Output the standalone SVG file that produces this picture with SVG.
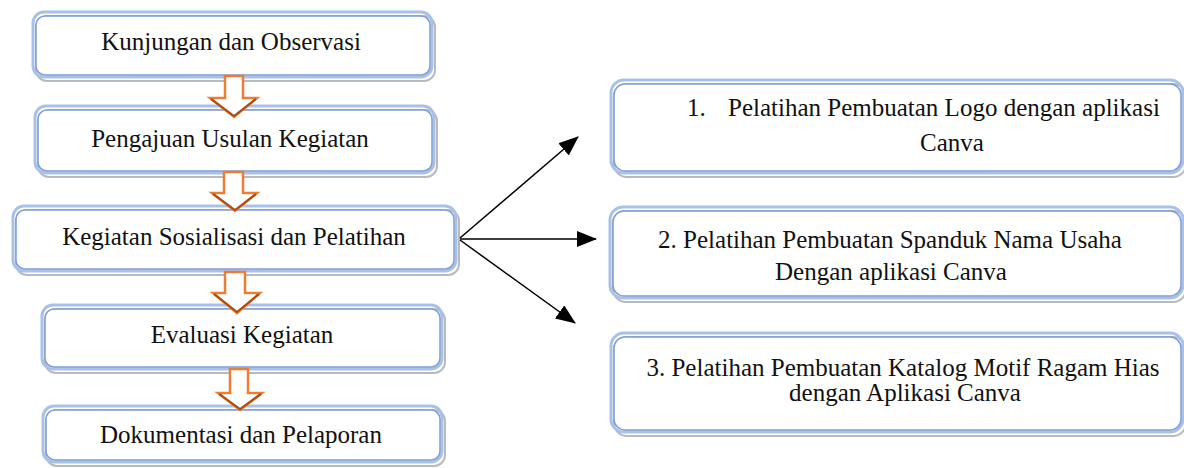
<svg xmlns="http://www.w3.org/2000/svg" width="1184" height="468" viewBox="0 0 1184 468">
  <defs>
    <marker id="ah" markerWidth="10" markerHeight="10" refX="9" refY="5" orient="auto" markerUnits="userSpaceOnUse">
      <path d="M0,0 L10,5 L0,10 Z" fill="#000"/>
    </marker>
    <marker id="ah2" viewBox="0 0 20 16" markerWidth="20" markerHeight="16" refX="19" refY="8" orient="auto" markerUnits="userSpaceOnUse">
      <path d="M0,0 L20,8 L0,16 Z" fill="#000"/>
    </marker>
  </defs>
  <style>
    .sh { fill: none; stroke: #9c9c9c; stroke-width: 2; opacity: 0.7; }
    .out { fill: none; stroke: #a9c1e8; stroke-width: 3; }
    .in { fill: #fff; stroke: #7d9dd3; stroke-width: 1.5; }
    .t { font-family: "Liberation Serif", "Times New Roman", serif; font-size: 25px; fill: #111; }
    .c { text-anchor: middle; }
    .ba { fill: #fff; stroke: #ed7d31; stroke-width: 2.5; stroke-linejoin: miter; }
    .bd { fill: none; stroke: #a54d12; stroke-width: 2; }
    .cn { stroke: #000; stroke-width: 1.5; fill: none; }
  </style>

  <g id="node-kunjungan">
    <rect class="sh" x="36" y="16" width="399" height="65" rx="11"/>
    <rect class="out" x="33" y="12" width="399" height="65" rx="11"/>
    <rect class="in" x="36" y="16" width="394" height="59" rx="9"/>
    <text class="t c" x="231" y="50">Kunjungan dan Observasi</text>
  </g>
  <g id="node-pengajuan">
    <rect class="sh" x="38" y="110" width="399" height="67" rx="11"/>
    <rect class="out" x="35" y="106" width="399" height="67" rx="11"/>
    <rect class="in" x="38" y="110" width="394" height="61" rx="9"/>
    <text class="t c" x="230" y="147">Pengajuan Usulan Kegiatan</text>
  </g>
  <g id="node-kegiatan">
    <rect class="sh" x="16" y="210" width="443" height="65" rx="11"/>
    <rect class="out" x="13" y="206" width="443" height="65" rx="11"/>
    <rect class="in" x="16" y="210" width="438" height="59" rx="9"/>
    <text class="t c" x="234" y="245">Kegiatan Sosialisasi dan Pelatihan</text>
  </g>
  <g id="node-evaluasi">
    <rect class="sh" x="45" y="309" width="400" height="64" rx="11"/>
    <rect class="out" x="42" y="305" width="400" height="64" rx="11"/>
    <rect class="in" x="45" y="309" width="395" height="58" rx="9"/>
    <text class="t c" x="242" y="343">Evaluasi Kegiatan</text>
  </g>
  <g id="node-dokumentasi">
    <rect class="sh" x="46" y="410" width="399" height="56" rx="11"/>
    <rect class="out" x="43" y="406" width="399" height="56" rx="11"/>
    <rect class="in" x="46" y="410" width="394" height="50" rx="9"/>
    <text class="t c" x="241" y="443">Dokumentasi dan Pelaporan</text>
  </g>

  <g id="node-logo">
    <rect class="sh" x="614" y="84" width="572" height="93" rx="13"/>
    <rect class="out" x="611" y="80" width="572" height="93" rx="13"/>
    <rect class="in" x="614" y="84" width="567" height="87" rx="11"/>
    <text class="t" x="687" y="116">1.</text>
    <text class="t" x="728" y="116">Pelatihan Pembuatan Logo dengan aplikasi</text>
    <text class="t c" x="952" y="151">Canva</text>
  </g>
  <g id="node-spanduk">
    <rect class="sh" x="613" y="211" width="573" height="91" rx="13"/>
    <rect class="out" x="610" y="207" width="573" height="91" rx="13"/>
    <rect class="in" x="613" y="211" width="568" height="85" rx="11"/>
    <text class="t c" x="890" y="248">2. Pelatihan Pembuatan Spanduk Nama Usaha</text>
    <text class="t c" x="891" y="280">Dengan aplikasi Canva</text>
  </g>
  <g id="node-katalog">
    <rect class="sh" x="614" y="337" width="572" height="99" rx="13"/>
    <rect class="out" x="611" y="333" width="572" height="99" rx="13"/>
    <rect class="in" x="614" y="337" width="567" height="93" rx="11"/>
    <text class="t c" x="903" y="376">3. Pelatihan Pembuatan Katalog Motif Ragam Hias</text>
    <text class="t c" x="905" y="401">dengan Aplikasi Canva</text>
  </g>

  <g id="connectors">
    <g id="block-arrows">
      <polygon class="ba" points="225,76 243,76 243,98 257,98 234,117 210,98 225,98"/>
      <path class="bd" d="M211,99 L234,116 L256,99"/>
      <polygon class="ba" points="224,172 243,172 243,193 257,193 235,211 212,193 224,193"/>
      <path class="bd" d="M213,194 L235,210 L256,194"/>
      <polygon class="ba" points="225,272 245,272 245,293 260,293 237,313 213,293 225,293"/>
      <path class="bd" d="M214,294 L237,312 L259,294"/>
      <polygon class="ba" points="230,369 248,369 248,393 262,393 240,410 218,393 230,393"/>
      <path class="bd" d="M219,394 L240,409 L261,394"/>
    </g>
    <line class="cn" x1="460" y1="238" x2="578" y2="137" marker-end="url(#ah2)"/>
    <line class="cn" x1="460" y1="239" x2="596" y2="239" marker-end="url(#ah2)"/>
    <line class="cn" x1="460" y1="240" x2="575" y2="323" marker-end="url(#ah2)"/>
  </g>
</svg>
